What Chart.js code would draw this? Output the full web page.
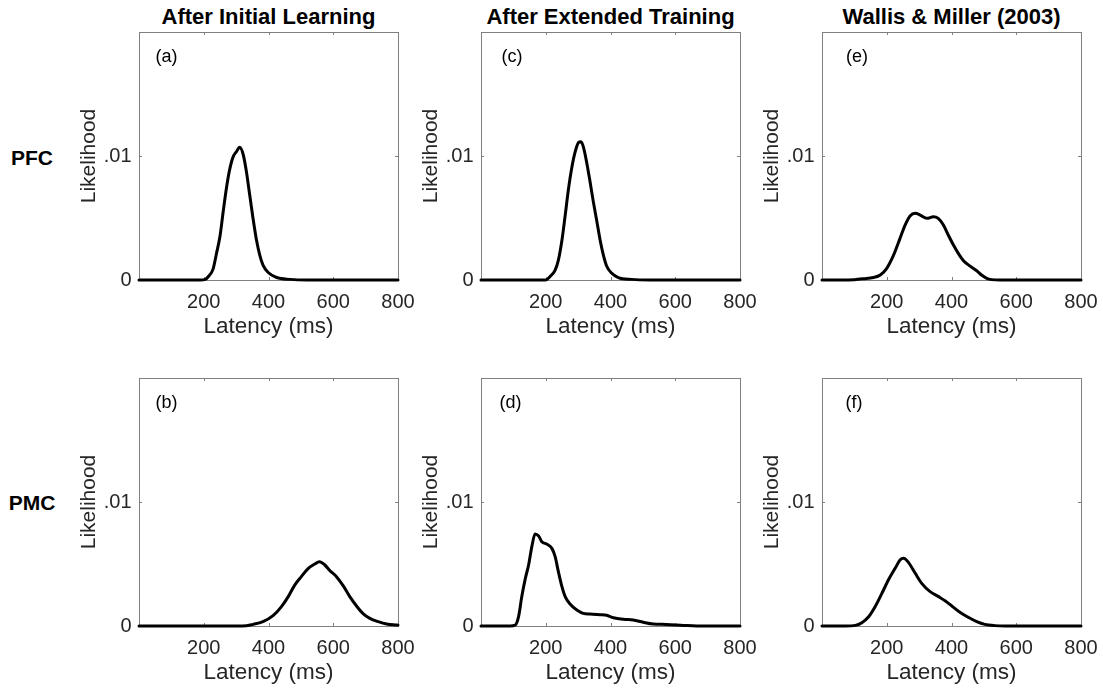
<!DOCTYPE html>
<html><head><meta charset="utf-8">
<script src="https://cdn.jsdelivr.net/npm/chart.js@4.4.1/dist/chart.umd.min.js"></script>
<style>
html,body{margin:0;padding:0;background:#fff;}
#wrap{position:relative;width:1103px;height:690px;overflow:hidden;font-family:"Liberation Sans",Arial,sans-serif;}
canvas{position:absolute;}
.ttl{position:absolute;font-weight:bold;font-size:22px;line-height:22px;color:#000;text-align:center;white-space:nowrap;width:400px;}
.row{position:absolute;font-weight:bold;font-size:21px;line-height:21px;color:#000;text-align:center;width:64px;left:0;}
</style></head><body><div id="wrap"></div>
<script>
// ---------- data ----------
const columnTitles = ['After Initial Learning', 'After Extended Training', 'Wallis & Miller (2003)'];
const rowLabels = ['PFC', 'PMC'];
const panelLetters = [['(a)', '(b)'], ['(c)', '(d)'], ['(e)', '(f)']];
const xTickValues = [200, 400, 600, 800];
const xTickLabels = ['200', '400', '600', '800'];
const yTickValues = [0, 0.01];
const yTickLabels = ['0', '.01'];
const xAxisLabel = 'Latency (ms)';
const yAxisLabel = 'Likelihood';

// (a) PFC, after initial learning
const latencyA = [0, 190, 205, 215, 229, 239, 250, 260, 270, 280, 291, 301, 311, 322, 332, 342, 352, 363, 373, 383, 399, 425, 466, 520, 800];
const likelihoodA = [0, 0, 0.00005, 0.0003, 0.0009, 0.0021, 0.0035, 0.0055, 0.0074, 0.0089, 0.00995, 0.01035, 0.0107, 0.0101, 0.0087, 0.00685, 0.005, 0.0032, 0.002, 0.0012, 0.0006, 0.0002, 0.00005, 0, 0];
// (b) PMC, after initial learning
const latencyB = [0, 320, 352, 383, 414, 440, 461, 481, 502, 523, 543, 557, 574, 590, 610, 631, 651, 672, 692, 713, 739, 765, 796, 800];
const likelihoodB = [0, 0, 0.00013, 0.00035, 0.00083, 0.00156, 0.00237, 0.0033, 0.004, 0.00465, 0.005, 0.00519, 0.00492, 0.00446, 0.00398, 0.00323, 0.00237, 0.00161, 0.001, 0.00062, 0.00035, 0.00016, 0.00008, 0.00007];
// (c) PFC, after extended training
const latencyC = [0, 200, 214, 229, 239, 250, 260, 270, 280, 291, 301, 309, 316, 327, 337, 347, 358, 368, 378, 388, 404, 424, 465, 520, 800];
const likelihoodC = [0, 0, 0.0003, 0.0008, 0.0016, 0.0032, 0.0052, 0.0073, 0.009, 0.01035, 0.01108, 0.01115, 0.01075, 0.0094, 0.0079, 0.0063, 0.0047, 0.0032, 0.002, 0.00113, 0.00054, 0.0002, 0.00005, 0, 0];
// (d) PMC, after extended training
const latencyD = [0, 90, 106, 116, 126, 137, 147, 157, 167, 178, 188, 204, 219, 229, 239, 250, 260, 275, 296, 316, 337, 368, 388, 409, 440, 470, 501, 532, 573, 625, 666, 800];
const likelihoodD = [0, 0, 0.00008, 0.00075, 0.00237, 0.00384, 0.00492, 0.0064, 0.00742, 0.00726, 0.0068, 0.00659, 0.00626, 0.00559, 0.00438, 0.00317, 0.00237, 0.00177, 0.00129, 0.00102, 0.00097, 0.00091, 0.00086, 0.00067, 0.00054, 0.00048, 0.0003, 0.00016, 0.00013, 0.00005, 0, 0];
// (e) PFC, Wallis & Miller (2003)
const latencyE = [0, 60, 100, 128, 159, 180, 200, 221, 241, 257, 272, 288, 303, 324, 344, 359, 375, 390, 406, 421, 437, 457, 478, 493, 509, 524, 550, 800];
const likelihoodE = [0, 0, 0.00003, 0.0001, 0.0002, 0.0004, 0.00094, 0.002, 0.00336, 0.00444, 0.00516, 0.00538, 0.00524, 0.00497, 0.0051, 0.00497, 0.00444, 0.00363, 0.00282, 0.00215, 0.00156, 0.00113, 0.00075, 0.0004, 0.00013, 0.00003, 0, 0];
// (f) PMC, Wallis & Miller (2003)
const latencyF = [0, 72, 103, 123, 144, 164, 185, 205, 226, 241, 252, 267, 288, 308, 334, 360, 380, 401, 426, 452, 478, 503, 534, 565, 800];
const likelihoodF = [0, 0, 0.00005, 0.00027, 0.00075, 0.00156, 0.00263, 0.00371, 0.00465, 0.00532, 0.00546, 0.00513, 0.00425, 0.00344, 0.00277, 0.00237, 0.00204, 0.00161, 0.0011, 0.0007, 0.00035, 0.00013, 0.00003, 0, 0];

const seriesGrid = [
  [[latencyA, likelihoodA], [latencyB, likelihoodB]],
  [[latencyC, likelihoodC], [latencyD, likelihoodD]],
  [[latencyE, likelihoodE], [latencyF, likelihoodF]]
];

// ---------- layout / style ----------
const FONT = "'Liberation Sans', Arial, Helvetica, sans-serif";
const colLeft = [139, 481, 822];
const rowTop = [32, 378];
const plotW = 259, plotH = 248;
const PAD_L = 18, Y_W = 62, PAD_T = 10, PAD_R = 20, X_H = 60;
const letterDx = [[16.5, 16.5], [20.5, 18.5], [24, 23.5]];
const rowLabelTop = [147, 492];

const wrap = document.getElementById('wrap');

columnTitles.forEach((t, c) => {
  const d = document.createElement('div');
  d.className = 'ttl';
  d.textContent = t;
  d.style.left = (colLeft[c] + plotW / 2 - 200) + 'px';
  d.style.top = '6px';
  wrap.appendChild(d);
});
rowLabels.forEach((t, r) => {
  const d = document.createElement('div');
  d.className = 'row';
  d.textContent = t;
  d.style.top = rowLabelTop[r] + 'px';
  wrap.appendChild(d);
});

const framePlugin = {
  id: 'frame',
  beforeDatasetsDraw(chart) {
    const {ctx, chartArea: a, scales} = chart;
    ctx.save();
    ctx.strokeStyle = '#808080';
    ctx.lineWidth = 1;
    ctx.strokeRect(a.left + 0.5, a.top + 0.5, a.right - a.left, a.bottom - a.top);
    ctx.beginPath();
    xTickValues.forEach(v => {
      if (v >= scales.x.max) return;
      const px = Math.round(scales.x.getPixelForValue(v)) + 0.5;
      ctx.moveTo(px, a.bottom); ctx.lineTo(px, a.bottom - 3);
      ctx.moveTo(px, a.top); ctx.lineTo(px, a.top + 3);
    });
    yTickValues.forEach(v => {
      if (v <= scales.y.min) return;
      const py = Math.round(scales.y.getPixelForValue(v)) + 0.5;
      ctx.moveTo(a.left, py); ctx.lineTo(a.left + 3, py);
      ctx.moveTo(a.right, py); ctx.lineTo(a.right - 3, py);
    });
    ctx.stroke();
    ctx.restore();
  }
};

const letterPlugin = {
  id: 'panelLetter',
  afterDatasetsDraw(chart, args, opts) {
    const {ctx, chartArea: a} = chart;
    ctx.save();
    ctx.fillStyle = '#000';
    ctx.font = '18px ' + FONT;
    ctx.textAlign = 'left';
    ctx.textBaseline = 'middle';
    ctx.fillText(opts.text, a.left + opts.dx, a.top + 25);
    ctx.restore();
  }
};

for (let c = 0; c < 3; c++) {
  for (let r = 0; r < 2; r++) {
    const [xs, ys] = seriesGrid[c][r];
    const cv = document.createElement('canvas');
    const W = PAD_L + Y_W + plotW + PAD_R;
    const H = PAD_T + plotH + X_H;
    cv.width = W; cv.height = H;
    cv.style.width = W + 'px'; cv.style.height = H + 'px';
    cv.style.left = (colLeft[c] - PAD_L - Y_W) + 'px';
    cv.style.top = (rowTop[r] - PAD_T) + 'px';
    wrap.appendChild(cv);
    new Chart(cv, {
      type: 'line',
      data: {
        datasets: [{
          data: xs.map((x, i) => ({x: x, y: ys[i]})),
          borderColor: '#000',
          borderWidth: 3,
          pointRadius: 0,
          fill: false,
          cubicInterpolationMode: 'monotone',
          borderJoinStyle: 'round',
          borderCapStyle: 'round',
          clip: false
        }]
      },
      options: {
        responsive: false,
        animation: false,
        devicePixelRatio: 1,
        layout: {padding: {left: PAD_L, top: PAD_T, right: PAD_R, bottom: 0}},
        plugins: {
          legend: {display: false},
          tooltip: {enabled: false},
          panelLetter: {text: panelLetters[c][r], dx: letterDx[c][r]}
        },
        scales: {
          x: {
            type: 'linear', min: 0, max: 800,
            grid: {display: false, drawTicks: false},
            border: {display: false},
            afterBuildTicks: s => { s.ticks = xTickValues.map(v => ({value: v})); },
            afterFit: s => { s.height = X_H; s.paddingLeft = 0; s.paddingRight = 0; },
            ticks: {
              autoSkip: false, maxRotation: 0, minRotation: 0, padding: 10.5,
              color: '#262626', font: {family: FONT, size: 20},
              callback: (v, i) => xTickLabels[i]
            },
            title: {display: true, text: xAxisLabel, color: '#262626', font: {family: FONT, size: 22.5}, padding: 0}
          },
          y: {
            type: 'linear', min: 0, max: 0.02,
            grid: {display: false, drawTicks: false},
            border: {display: false},
            afterBuildTicks: s => { s.ticks = yTickValues.map(v => ({value: v})); },
            afterFit: s => { s.width = Y_W; s.paddingTop = 0; s.paddingBottom = 0; },
            ticks: {
              autoSkip: false, padding: 7.5,
              color: '#262626', font: {family: FONT, size: 20},
              callback: (v, i) => yTickLabels[i]
            },
            title: {display: true, text: yAxisLabel, color: '#262626', font: {family: FONT, size: 21}, padding: 0}
          }
        }
      },
      plugins: [framePlugin, letterPlugin]
    });
  }
}
</script></body></html>
